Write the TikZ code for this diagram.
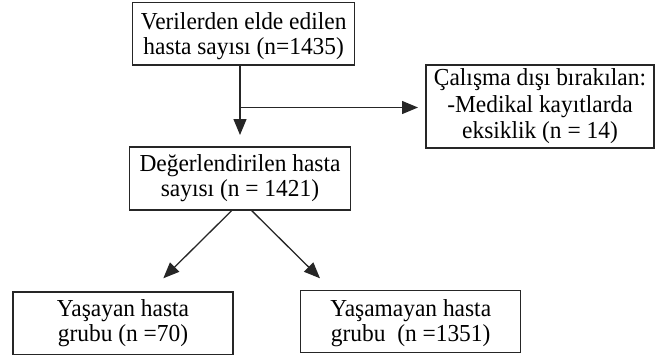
\documentclass[tikz,border=0pt]{standalone}
\usepackage{fontspec}
\setmainfont{Liberation Serif}[FakeStretch=0.96]
\usetikzlibrary{arrows.meta}
\begin{document}
\begin{tikzpicture}[x=1pt,y=-1pt,
  box/.style={draw=black!85, line width=1.2pt, align=center, inner sep=0pt,
    font=\fontsize{24.4}{25}\selectfont, text=black},
  conn/.style={draw=black!85, line width=1.3pt, -{Triangle[length=16pt,width=13pt]}}]
\useasboundingbox (0,0) rectangle (665,357);
\node[box, minimum width=222pt, minimum height=62.5pt] (top) at (243.7,33.8) {\rule{0pt}{21pt}Verilerden elde edilen\\hasta sayısı (n=1435)};
\node[box, minimum width=228pt, minimum height=83pt, font=\fontsize{24.4}{26.5}\selectfont] (excl) at (540,106.5) {Çalışma dışı bırakılan:\\-Medikal kayıtlarda\\eksiklik (n = 14)};
\node[box, minimum width=221.4pt, minimum height=63pt] (eval) at (240,178.5) {Değerlendirilen hasta\\sayısı (n = 1421)};
\node[box, minimum width=220pt, minimum height=62.5pt] (alive) at (123,323.2) {Yaşayan hasta\\grubu (n =70)};
\node[box, minimum width=220pt, minimum height=62pt] (dead) at (410.7,321.7) {\rule{0pt}{19pt}Yaşamayan hasta\\grubu\ \ (n =1351)};
\coordinate (vend) at (240,135);
\coordinate (branch) at (240,107.5);
\coordinate (hend) at (418,107.5);
\coordinate (ls) at (231.7,210);
\coordinate (le) at (163.3,278.3);
\coordinate (rs) at (251.7,210);
\coordinate (re) at (320,278.3);
\draw[conn] (top.south -| vend) -- (vend);
\draw[conn] (branch) -- (hend);
\draw[conn] (eval.south -| ls) -- (le);
\draw[conn] (eval.south -| rs) -- (re);
\end{tikzpicture}
\end{document}
